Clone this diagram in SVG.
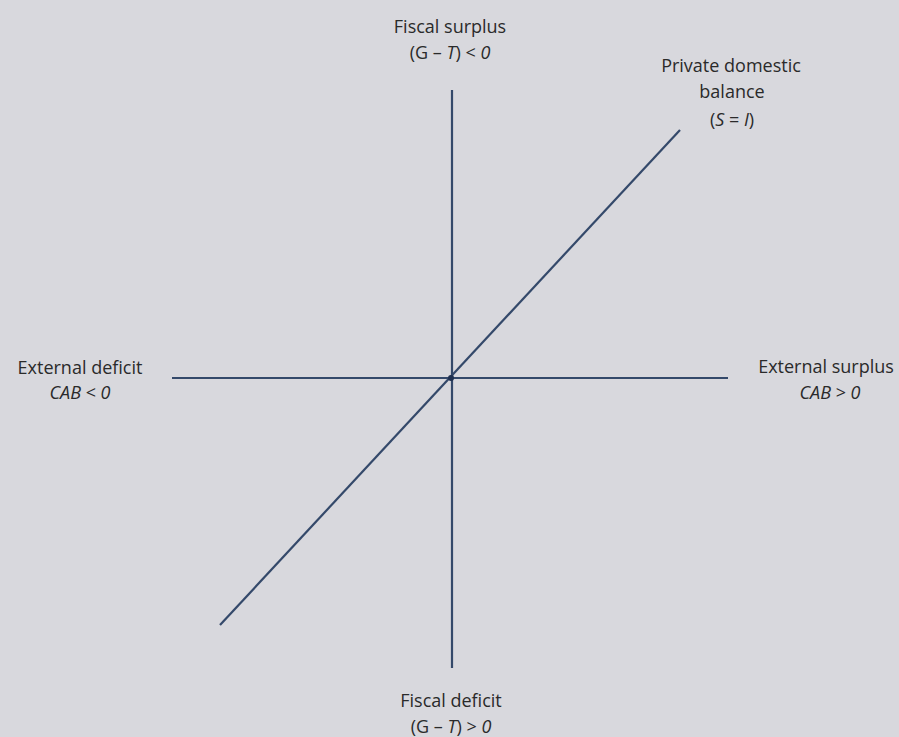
<svg xmlns="http://www.w3.org/2000/svg" width="899" height="737" viewBox="0 0 899 737">
<style>
.lbl{font-family:"Open Sans","Liberation Sans",sans-serif;font-size:18px;fill:#2a2a2a;text-anchor:middle}
.it{font-style:italic}
.ax{stroke:#34496a;stroke-width:2.2;fill:none}
</style>
<rect width="899" height="737" fill="#d8d8dd"/>
<g id="connectors">
<line class="ax" x1="452" y1="90" x2="452" y2="668"/>
<line class="ax" x1="172" y1="378" x2="728" y2="378"/>
<line class="ax" x1="220" y1="625" x2="680" y2="130"/>
<circle cx="451" cy="378" r="3" fill="#1f3050"/>
</g>
<g id="fiscal-surplus">
<text class="lbl" x="450" y="33">Fiscal surplus</text>
<text class="lbl" x="450" y="59">(G – <tspan class="it">T</tspan>) &lt; <tspan class="it">0</tspan></text>
</g>
<g id="private-balance">
<text class="lbl" x="731" y="72">Private domestic</text>
<text class="lbl" x="732" y="98">balance</text>
<text class="lbl" x="732" y="126">(<tspan class="it">S</tspan> = <tspan class="it">I</tspan>)</text>
</g>
<g id="external-deficit">
<text class="lbl" x="80" y="374">External deficit</text>
<text class="lbl" x="80" y="399"><tspan class="it">CAB</tspan> &lt; <tspan class="it">0</tspan></text>
</g>
<g id="external-surplus">
<text class="lbl" x="826" y="373">External surplus</text>
<text class="lbl" x="830" y="399"><tspan class="it">CAB</tspan> &gt; <tspan class="it">0</tspan></text>
</g>
<g id="fiscal-deficit">
<text class="lbl" x="451" y="707">Fiscal deficit</text>
<text class="lbl" x="451" y="733">(G – <tspan class="it">T</tspan>) &gt; <tspan class="it">0</tspan></text>
</g>
</svg>
